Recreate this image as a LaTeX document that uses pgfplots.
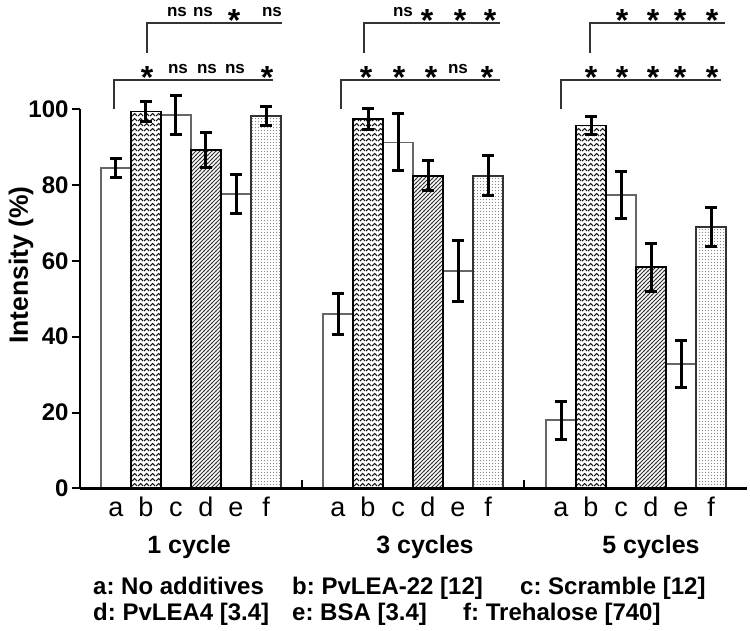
\documentclass[border=0pt]{standalone}
\usepackage{pgfplots}
\pgfplotsset{compat=1.18}
\usetikzlibrary{patterns}
\usepackage{fontspec}
\setmainfont{Liberation Sans}
\frenchspacing

\pgfdeclarepatternformonly{zigzag}{\pgfqpoint{0pt}{0pt}}{\pgfqpoint{6pt}{4.8pt}}{\pgfqpoint{6pt}{4.8pt}}{%
  \pgfsetlinewidth{1.1pt}%
  \pgfpathmoveto{\pgfqpoint{0pt}{1pt}}%
  \pgfpathlineto{\pgfqpoint{3pt}{3.6pt}}%
  \pgfpathlineto{\pgfqpoint{6pt}{1pt}}%
  \pgfusepath{stroke}}
\pgfdeclarepatternformonly{hatchNE}{\pgfqpoint{-1pt}{-1pt}}{\pgfqpoint{5pt}{5pt}}{\pgfqpoint{4pt}{4pt}}{%
  \pgfsetlinewidth{0.9pt}%
  \pgfpathmoveto{\pgfqpoint{-0.5pt}{-0.5pt}}%
  \pgfpathlineto{\pgfqpoint{4.5pt}{4.5pt}}%
  \pgfusepath{stroke}}
\pgfdeclarepatternformonly{densedots}{\pgfqpoint{0pt}{0pt}}{\pgfqpoint{3.4pt}{3.4pt}}{\pgfqpoint{3.4pt}{3.4pt}}{%
  \pgfpathcircle{\pgfqpoint{1.7pt}{1.7pt}}{0.75pt}%
  \pgfusepath{fill}}

\newcommand{\sast}[2]{\node[anchor=base,inner sep=0pt,font=\fontsize{32}{32}\bfseries] at (axis cs:#1,#2) {*};}
\newcommand{\sns}[2]{\node[anchor=base,inner sep=0pt,font=\fontsize{17}{17}\bfseries] at (axis cs:#1,#2) {ns};}

\begin{document}
\begin{tikzpicture}
\begin{axis}[
  scale only axis, width=667pt, height=379pt,
  xmin=80, xmax=747, ymin=0, ymax=100,
  axis x line=bottom, axis y line=left,
  axis line style={-, line width=2.6pt, black},
  axis on top,
  clip=false,
  ytick={0,20,40,60,80,100},
  ytick style={line width=2pt, black},
  tick align=outside, major tick length=8pt,
  yticklabel style={font=\fontsize{24}{24}\bfseries, /pgf/number format/assume math mode=true},
  xtick={116,146,176,206,236,266,338,368,398,428,458,488,561,591,621,651,681,711},
  xticklabels={a,b,c,d,e,f,a,b,c,d,e,f,a,b,c,d,e,f},
  xtick style={draw=none},
  xticklabel style={font=\fontsize{27}{27}\selectfont, text height=19pt, text depth=1pt, yshift=2pt},
  bar width=30,
  error bars/error bar style={line width=3pt, black},
  error bars/error mark options={rotate=90, line width=3pt, mark size=6pt, black},
]
% a: No additives
\addplot[ybar, bar shift=0pt, fill=white, draw=black!60, line width=1.5pt,
  error bars/.cd, y dir=both, y explicit]
  coordinates {(116,84.5) +- (0,2.6) (338,46) +- (0,5.4) (561,18) +- (0,5)};
% c: Scramble
\addplot[ybar, bar shift=0pt, fill=white, draw=black!60, line width=1.5pt,
  error bars/.cd, y dir=both, y explicit]
  coordinates {(176,98.5) +- (0,5.1) (398,91.3) +- (0,7.5) (621,77.4) +- (0,6.3)};
% e: BSA
\addplot[ybar, bar shift=0pt, fill=white, draw=black!60, line width=1.5pt,
  error bars/.cd, y dir=both, y explicit]
  coordinates {(236,77.6) +- (0,5.1) (458,57.3) +- (0,8) (681,32.8) +- (0,6.3)};
% b: PvLEA-22
\addplot[ybar, bar shift=0pt, draw=black, line width=1.8pt, pattern=zigzag, pattern color=black!90,
  error bars/.cd, y dir=both, y explicit]
  coordinates {(146,99.4) +- (0,2.6) (368,97.4) +- (0,2.8) (591,95.7) +- (0,2.4)};
% d: PvLEA4
\addplot[ybar, bar shift=0pt, draw=black, line width=1.8pt, pattern=hatchNE, pattern color=black!80,
  error bars/.cd, y dir=both, y explicit]
  coordinates {(206,89.3) +- (0,4.6) (428,82.5) +- (0,4) (651,58.3) +- (0,6.4)};
% f: Trehalose
\addplot[ybar, bar shift=0pt, draw=black!80, line width=1.8pt, pattern=densedots, pattern color=black!45,
  error bars/.cd, y dir=both, y explicit]
  coordinates {(266,98.3) +- (0,2.5) (488,82.5) +- (0,5.2) (711,69) +- (0,5.1)};

% group separator ticks
\draw[line width=1.5pt] (axis cs:302,0) -- (axis cs:302,2.2);
\draw[line width=1.5pt] (axis cs:524,0) -- (axis cs:524,2.2);

% brackets
\draw[line width=1.8pt, black!80] (axis cs:114,100.1) |- (axis cs:273,107.7);
\draw[line width=1.8pt, black!80] (axis cs:147,114.9) |- (axis cs:282,122.8);
\draw[line width=1.8pt, black!80] (axis cs:341,100.1) |- (axis cs:500,107.7);
\draw[line width=1.8pt, black!80] (axis cs:364,114.9) |- (axis cs:500,122.8);
\draw[line width=1.8pt, black!80] (axis cs:561,100.1) |- (axis cs:721,107.7);
\draw[line width=1.8pt, black!80] (axis cs:590,114.9) |- (axis cs:725,122.8);

% significance, lower rows
\sast{147}{105.5} \sns{178}{109.5} \sns{207}{109.5} \sns{235}{109.5} \sast{267}{105.5}
\sast{366}{105.5} \sast{399}{105.5} \sast{431}{105.5} \sns{458}{109.5} \sast{487}{105.5}
\sast{591}{105.5} \sast{622}{105.5} \sast{653}{105.5} \sast{680}{105.5} \sast{712}{105.5}
% upper rows
\sns{177}{124.6} \sns{203}{124.6} \sast{234}{120.6} \sns{272}{124.6}
\sns{403}{124.6} \sast{427}{120.6} \sast{460}{120.6} \sast{490}{120.6}
\sast{622}{120.6} \sast{653}{120.6} \sast{680}{120.6} \sast{712}{120.6}

% y label
\node[rotate=90, font=\fontsize{26.5}{26.5}\bfseries] at (axis cs:21,58.9) {Intensity (\%)};

% group labels
\node[font=\fontsize{25}{25}\bfseries] at (axis cs:189,-15.5) {1 cycle};
\node[font=\fontsize{25}{25}\bfseries] at (axis cs:425,-15.5) {3 cycles};
\node[font=\fontsize{25}{25}\bfseries] at (axis cs:651,-15.5) {5 cycles};

% legend text
\node[anchor=base west, inner sep=0pt, font=\fontsize{24}{24}\bfseries] at (axis cs:93,-28.15) {a: No additives};
\node[anchor=base west, inner sep=0pt, font=\fontsize{24}{24}\bfseries] at (axis cs:292,-28.15) {b: PvLEA-22 [12]};
\node[anchor=base west, inner sep=0pt, font=\fontsize{24}{24}\bfseries] at (axis cs:520,-28.15) {c: Scramble [12]};
\node[anchor=base west, inner sep=0pt, font=\fontsize{24}{24}\bfseries] at (axis cs:93,-34.75) {d: PvLEA4 [3.4]};
\node[anchor=base west, inner sep=0pt, font=\fontsize{24}{24}\bfseries] at (axis cs:292,-34.75) {e: BSA [3.4]};
\node[anchor=base west, inner sep=0pt, font=\fontsize{24}{24}\bfseries] at (axis cs:463,-34.75) {f: Trehalose [740]};

\coordinate (tl) at (axis cs:0,128.84);
\coordinate (br) at (axis cs:750,-37.65);
\end{axis}
\pgfresetboundingbox
\path[use as bounding box] (tl) rectangle (br);
\end{tikzpicture}
\end{document}
